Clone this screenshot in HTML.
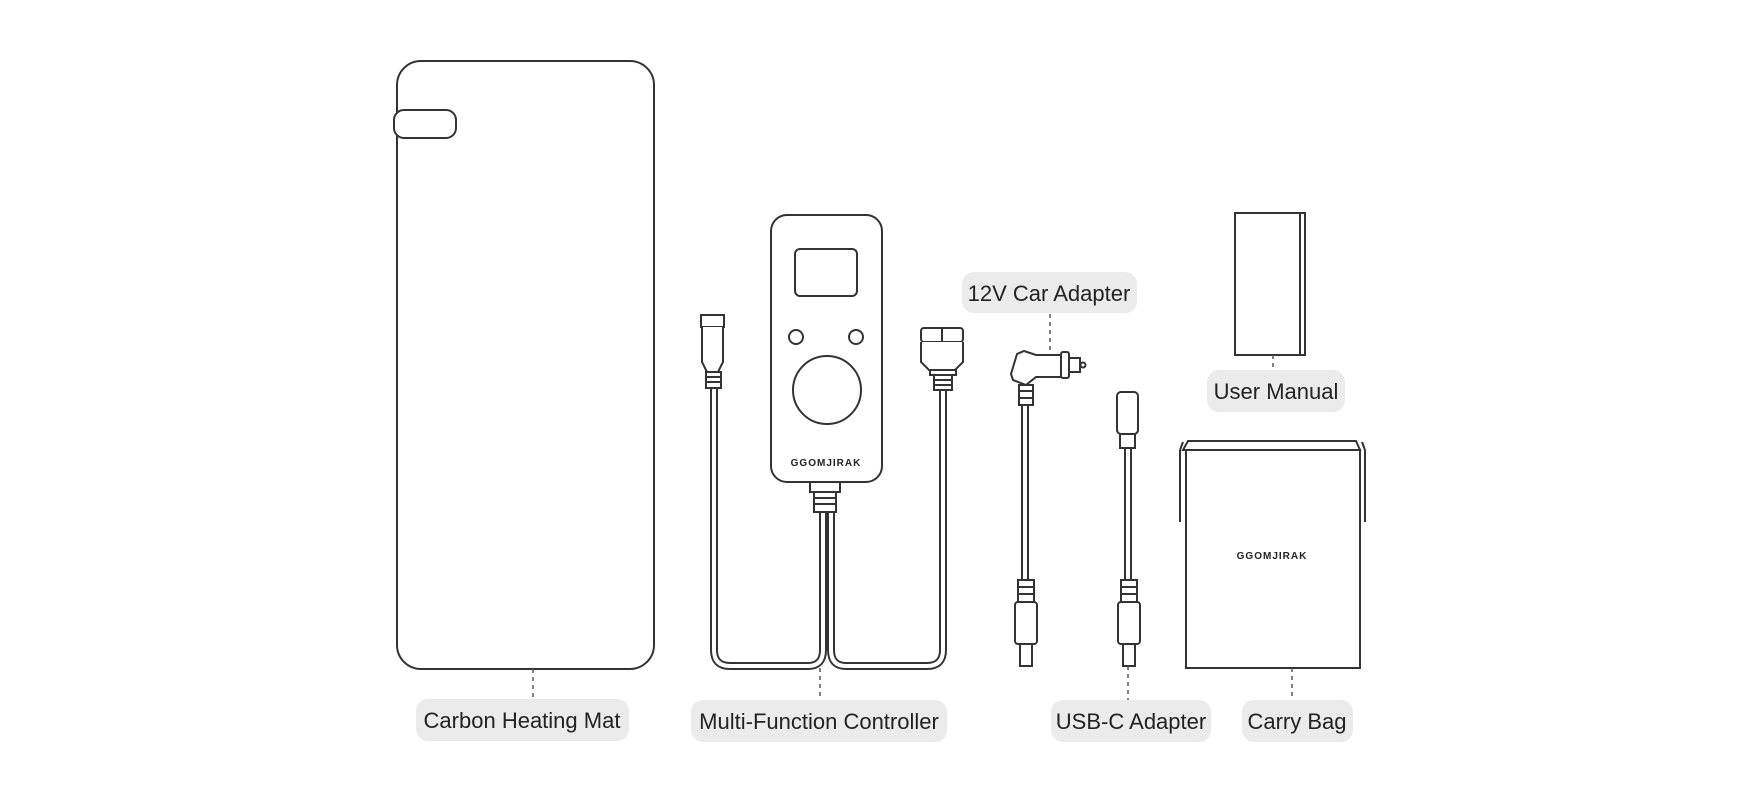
<!DOCTYPE html>
<html><head><meta charset="utf-8"><style>
html,body{margin:0;padding:0;background:#fff}
svg{display:block}
text{font-family:"Liberation Sans",sans-serif}
.l{font-size:22px;fill:#222}
.b{font-size:10px;font-weight:bold;fill:#222;letter-spacing:1px}
</style></head><body>
<svg width="1753" height="799" viewBox="0 0 1753 799" xmlns="http://www.w3.org/2000/svg">
<g fill="none" stroke="#333" stroke-width="2">
<rect x="397" y="61" width="257" height="608" rx="24" fill="#fff"/>
<rect x="394" y="110" width="62" height="28" rx="10" fill="#fff"/>
<g stroke-width="8" stroke-linejoin="round">
<path d="M714 388 V650 Q714 666 730 666 H808 Q823 666 823 650 V512"/>
<path d="M943 372 V650 Q943 666 927 666 H846 Q831 666 831 650 V512"/>
<path d="M1025 404 V581"/><path d="M1128 447 V581"/>
</g>
<g stroke="#fff" stroke-width="4" stroke-linejoin="round">
<path d="M714 388 V650 Q714 666 730 666 H808 Q823 666 823 650 V512"/>
<path d="M943 372 V650 Q943 666 927 666 H846 Q831 666 831 650 V512"/>
<path d="M1025 400 V582"/><path d="M1128 446 V582"/>
</g>
<rect x="771" y="215" width="111" height="267" rx="16" fill="#fff"/>
<rect x="795" y="249" width="62" height="47" rx="5" fill="#fff"/>
<circle cx="796" cy="337" r="7"/><circle cx="856" cy="337" r="7"/>
<circle cx="827" cy="390" r="34"/>
<rect x="810" y="482" width="30" height="10" fill="#fff"/>
<rect x="814" y="492" width="22" height="20" fill="#fff"/>
<path d="M814 498h22M814 504h22"/>
<rect x="701" y="315" width="23" height="12" fill="#fff"/>
<path d="M702 327 v35 l5 10 h11 l5 -10 v-35" fill="#fff"/>
<rect x="706" y="372" width="15" height="16" fill="#fff"/>
<path d="M706 377h15M706 382h15"/>
<rect x="921" y="328" width="42" height="14" rx="3" fill="#fff"/>
<path d="M942 328v14"/>
<path d="M921 342 v20 l8 8 h26 l8 -8 v-20" fill="#fff"/>
<rect x="930" y="370" width="26" height="5" fill="#fff"/>
<rect x="934" y="375" width="18" height="15" fill="#fff"/>
<path d="M934 380h18M934 385h18"/>
<path d="M1017 354 l-6 20 l2 6 l13 5 l10 -8 h25 v-22 h-25 l-12 -4 z" fill="#fff"/>
<rect x="1061" y="352" width="8" height="26" rx="2" fill="#fff"/>
<rect x="1069" y="358" width="11" height="14" fill="#fff"/>
<circle cx="1083" cy="365" r="2.5"/>
<rect x="1019" y="385" width="14" height="20" fill="#fff"/>
<path d="M1019 391h14M1019 398h14"/>
<rect x="1018" y="580" width="16" height="22" fill="#fff"/>
<path d="M1018 587h16M1018 594h16"/>
<rect x="1015" y="602" width="22" height="42" rx="3" fill="#fff"/>
<rect x="1020" y="644" width="12" height="22" fill="#fff"/>
<rect x="1117" y="392" width="21" height="42" rx="4" fill="#fff"/>
<rect x="1120" y="434" width="15" height="14" fill="#fff"/>
<rect x="1121" y="580" width="16" height="22" fill="#fff"/>
<path d="M1121 587h16M1121 594h16"/>
<rect x="1118" y="602" width="22" height="42" rx="3" fill="#fff"/>
<rect x="1123" y="644" width="12" height="22" fill="#fff"/>
<rect x="1235" y="213" width="70" height="142" fill="#fff"/>
<path d="M1300 213 v142"/>
<path d="M1188 441 h168 l4 9 h-177 z" fill="#fff"/>
<path d="M1180 450 l3 -8 M1180 450 v72 M1365 450 l-3 -8 M1365 450 v72"/>
<rect x="1186" y="450" width="174" height="218" fill="#fff"/>
</g>
<g stroke="#555" stroke-width="1.5" stroke-dasharray="4 4">
<path d="M533 669V699M820 668V700M1050 314V351M1128 666V700M1273 355V370M1292 668V700"/>
</g>
<text class="b" x="826" y="466" text-anchor="middle">GGOMJIRAK</text>
<text class="b" x="1272" y="559" text-anchor="middle">GGOMJIRAK</text>
<g fill="#ebebeb">
<rect x="416" y="699" width="213" height="42" rx="12"/>
<rect x="691" y="700" width="256" height="42" rx="12"/>
<rect x="962" y="272" width="175" height="41" rx="12"/>
<rect x="1207" y="370" width="138" height="42" rx="12"/>
<rect x="1051" y="700" width="160" height="42" rx="12"/>
<rect x="1242" y="700" width="111" height="42" rx="12"/>
</g>
<text class="l" x="522" y="728" text-anchor="middle">Carbon Heating Mat</text>
<text class="l" x="819" y="729" text-anchor="middle">Multi-Function Controller</text>
<text class="l" x="1049" y="301" text-anchor="middle">12V Car Adapter</text>
<text class="l" x="1276" y="399" text-anchor="middle">User Manual</text>
<text class="l" x="1131" y="729" text-anchor="middle">USB-C Adapter</text>
<text class="l" x="1297" y="729" text-anchor="middle">Carry Bag</text>
</svg>
</body></html>
